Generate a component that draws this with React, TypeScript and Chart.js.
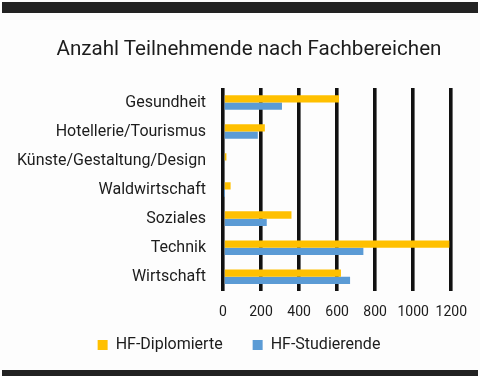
import React, { useEffect, useRef } from "react";
import { Chart, registerables } from "chart.js";

Chart.register(...registerables);

const title = "Anzahl Teilnehmende nach Fachbereichen";
const categories = [
  "Gesundheit",
  "Hotellerie/Tourismus",
  "Künste/Gestaltung/Design",
  "Waldwirtschaft",
  "Soziales",
  "Technik",
  "Wirtschaft",
];
const seriesNames = ["HF-Diplomierte", "HF-Studierende"];
const diplomierte = [610, 220, 18, 40, 360, 1190, 620];
const studierende = [310, 183, 10, 5, 230, 738, 668];
const xMin = 0;
const xMax = 1200;
const xStep = 200;

const FONT = "Roboto, 'Noto Sans', sans-serif";
const TEXT = "#1c1c1c";

// shifts the legend box after layout so that it sits like in the reference
const legendShift = {
  id: "legendShift",
  afterLayout(chart: any) {
    const lg = chart.legend;
    if (!lg) return;
    lg.top -= 27;
    lg.bottom -= 27;
    lg.left += 9;
    lg.right += 9;
  },
};

export default function App() {
  const ref = useRef<HTMLCanvasElement>(null);

  useEffect(() => {
    const chart = new Chart(ref.current!, {
      type: "bar",
      data: {
        labels: categories,
        datasets: [
          {
            label: seriesNames[0],
            data: diplomierte,
            backgroundColor: "#FFC000",
            categoryPercentage: 0.5,
            barPercentage: 1,
          },
          {
            label: seriesNames[1],
            data: studierende,
            backgroundColor: "#5B9BD5",
            categoryPercentage: 0.5,
            barPercentage: 1,
          },
        ],
      },
      plugins: [legendShift],
      options: {
        animation: false,
        responsive: false,
        indexAxis: "y",
        layout: { padding: { top: 88, left: 8, right: 28, bottom: -14 } },
        scales: {
          x: {
            min: xMin,
            max: xMax,
            ticks: {
              stepSize: xStep,
              color: TEXT,
              font: { family: FONT, size: 14 },
              padding: 13,
              maxRotation: 0,
              minRotation: 0,
              autoSkip: false,
              callback: (v: any) => String(v),
            },
            grid: { color: "#111111", lineWidth: 3.6, drawTicks: false },
            border: { display: false },
          },
          y: {
            grid: { display: false, drawTicks: false },
            border: { display: false },
            ticks: {
              color: TEXT,
              font: { family: FONT, size: 16 },
              padding: 17,
            },
            afterFit: (s: any) => {
              s.width = 215;
            },
          },
        },
        plugins: {
          legend: {
            position: "bottom",
            labels: {
              boxWidth: 10,
              boxHeight: 10,
              padding: 30,
              color: TEXT,
              font: { family: FONT, size: 16 },
            },
          },
          tooltip: { enabled: false },
          title: { display: false },
        },
      },
    });
    return () => chart.destroy();
  }, []);

  return (
    <div
      style={{
        position: "fixed",
        left: 0,
        top: 0,
        width: 480,
        height: 376,
        background: "#fdfdfd",
        overflow: "hidden",
      }}
    >
      <canvas
        ref={ref}
        width={480}
        height={376}
        style={{ position: "absolute", left: 0, top: 0, width: 480, height: 376 }}
      />
      <div
        style={{
          position: "absolute",
          left: 2,
          top: 2,
          width: 476,
          height: 11,
          background: "#222222",
        }}
      />
      <div
        style={{
          position: "absolute",
          left: 2,
          top: 370,
          width: 476,
          height: 6,
          background: "#222222",
        }}
      />
      <div
        style={{
          position: "absolute",
          left: 0,
          top: 36,
          width: 480,
          boxSizing: "border-box",
          paddingLeft: 18,
          textAlign: "center",
          fontFamily: FONT,
          fontSize: 20.6,
          lineHeight: "24px",
          color: TEXT,
        }}
      >
        {title}
      </div>
    </div>
  );
}
